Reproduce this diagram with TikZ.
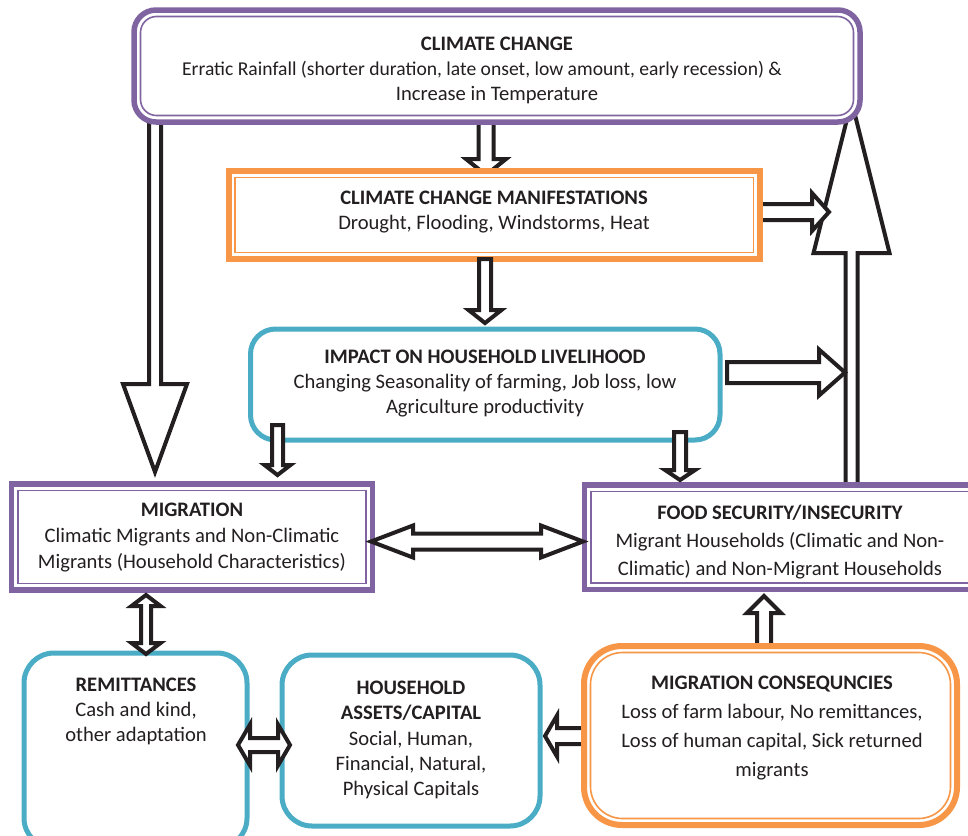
\documentclass[tikz,border=0pt]{standalone}
\usepackage{fontspec}
\setmainfont{Carlito}
\usetikzlibrary{calc}
\definecolor{cpurple}{HTML}{8064A2}
\definecolor{corange}{HTML}{F79646}
\definecolor{cblue}{HTML}{4BACC6}
\definecolor{ctext}{HTML}{231F20}
\definecolor{carrow}{HTML}{231F20}
% single block arrow: start, tip, shaft half width, head half width, head length
\newcommand{\blockarrow}[5]{%
  \coordinate (tmpH) at ($(#2)!#5pt!(#1)$);
  \draw[blk] ($(#1)!#3pt!90:(#2)$) -- ($(tmpH)!#3pt!90:(#2)$) -- ($(tmpH)!#4pt!90:(#2)$) -- (#2)
     -- ($(tmpH)!#4pt!-90:(#2)$) -- ($(tmpH)!#3pt!-90:(#2)$) -- ($(#1)!#3pt!-90:(#2)$) -- cycle;}
% double block arrow: tip a, tip b, shaft half width, head half width, head length
\newcommand{\dblockarrow}[5]{%
  \coordinate (tmpA) at ($(#1)!#5pt!(#2)$);
  \coordinate (tmpB) at ($(#2)!#5pt!(#1)$);
  \draw[blk] (#1) -- ($(tmpA)!#4pt!90:(#2)$) -- ($(tmpA)!#3pt!90:(#2)$) -- ($(tmpB)!#3pt!90:(#2)$)
     -- ($(tmpB)!#4pt!90:(#2)$) -- (#2) -- ($(tmpB)!#4pt!-90:(#2)$) -- ($(tmpB)!#3pt!-90:(#2)$)
     -- ($(tmpA)!#3pt!-90:(#2)$) -- ($(tmpA)!#4pt!-90:(#2)$) -- cycle;}
\begin{document}
\begin{tikzpicture}[x=1pt,y=-1pt,
  blk/.style={draw=carrow, line width=4pt, fill=white, line join=miter, miter limit=20},
  pbox/.style={draw=cpurple, line width=5.5pt, fill=white, inner sep=0pt},
  obox/.style={draw=corange, line width=6pt, fill=white, inner sep=0pt},
  bbox/.style={draw=cblue, line width=5pt, fill=white, inner sep=0pt, rounded corners=30pt},
  pinner/.style={draw=cpurple, line width=1.6pt, inner sep=0pt},
  oinner/.style={draw=corange, line width=1.6pt, inner sep=0pt},
  txt/.style={text=ctext, align=center, font=\fontsize{20.6}{25.5}\selectfont, inner sep=0pt},
]
\useasboundingbox (0,0) rectangle (968,835);

% ---- connector end points
\coordinate (a1s) at (155,118);   \coordinate (a1e) at (155,472);
\coordinate (a2s) at (486,118);   \coordinate (a2e) at (486,175);
\coordinate (a4s) at (740,212);   \coordinate (a4e) at (829,212);
\coordinate (a5s) at (851.5,487); \coordinate (a5e) at (851.5,101);
\coordinate (a12s) at (600,736);  \coordinate (a12e) at (545,736);
\coordinate (a13s) at (764,660);  \coordinate (a13e) at (764,596);
\coordinate (a3s) at (485,259);   \coordinate (a3e) at (485,323);
\coordinate (a6s) at (727,372.5); \coordinate (a6e) at (845,372.5);
\coordinate (a7s) at (277.5,425); \coordinate (a7e) at (277.5,475);
\coordinate (a8s) at (680,432);   \coordinate (a8e) at (680,480);
\coordinate (a9s) at (371,541.5); \coordinate (a9e) at (583,541.5);
\coordinate (a10s) at (146,595);  \coordinate (a10e) at (146,654);
\coordinate (a11s) at (238,745);  \coordinate (a11e) at (290,745);

% ---- arrows behind the boxes
\blockarrow{a5s}{a5e}{6}{38}{152}
\blockarrow{a1s}{a1e}{6}{32}{88}
\blockarrow{a2s}{a2e}{7.5}{20}{16}
\blockarrow{a4s}{a4e}{8}{19}{17}
\blockarrow{a12s}{a12e}{8}{20.5}{12}
\blockarrow{a13s}{a13e}{7}{17}{17}

% ---- boxes (outer thick border + inner thin border)
\node[pbox, rounded corners=22pt, minimum width=726pt, minimum height=112pt] (cc) at (497,66) {};
\node[pinner, rounded corners=16pt, minimum width=713pt, minimum height=99pt] (cci) at (cc.center) {};

\node[obox, minimum width=531.5pt, minimum height=88pt] (man) at (494.25,215) {};
\node[oinner, minimum width=518.5pt, minimum height=75pt] (mani) at (man.center) {};

\node[bbox, rounded corners=25pt, minimum width=469.5pt, minimum height=111pt] (imp) at (485.25,384.5) {};

\node[pbox, minimum width=361pt, minimum height=106pt] (mig) at (192,537) {};
\node[pinner, minimum width=348pt, minimum height=93pt] (migi) at (mig.center) {};

\node[pbox, minimum width=390.5pt, minimum height=104.5pt] (food) at (779.75,537.25) {};
\node[pinner, minimum width=377.5pt, minimum height=91.5pt] (foodi) at (food.center) {};

\node[bbox, minimum width=223pt, minimum height=195pt] (rem) at (135.5,750.5) {};
\node[bbox, minimum width=258pt, minimum height=171pt] (hh) at (411,740.5) {};

\node[obox, rounded corners=38pt, minimum width=373pt, minimum height=179pt] (con) at (770.5,735.5) {};
\node[oinner, rounded corners=32pt, minimum width=360pt, minimum height=166pt] (coni) at (con.center) {};

% ---- arrows in front of the boxes
\blockarrow{a3s}{a3e}{6}{16.5}{13}
\blockarrow{a6s}{a6e}{10.5}{23}{26}
\blockarrow{a7s}{a7e}{5.5}{13}{10}
\blockarrow{a8s}{a8e}{6}{15}{10}
\dblockarrow{a9s}{a9e}{8}{16}{42}
\dblockarrow{a10s}{a10e}{5}{14.5}{11}
\dblockarrow{a11s}{a11e}{7}{20.5}{12}

% ---- texts
\node[txt, font=\fontsize{20.6}{25}\selectfont] (cct) at (497,70) {\textbf{CLIMATE CHANGE}\\\hbox{\fontsize{19.6}{25}\selectfont Erratic Rainfall (shorter duration, late onset, low amount, early recession) \&\kern30pt}\\Increase in Temperature};
\node[txt] (mant) at (494,212) {\textbf{CLIMATE CHANGE MANIFESTATIONS}\\Drought, Flooding, Windstorms, Heat};
\node[txt, font=\fontsize{20.6}{25}\selectfont] (impt) at (485,383.5) {\textbf{IMPACT ON HOUSEHOLD LIVELIHOOD}\\Changing Seasonality of farming, Job loss, low\\Agriculture productivity};
\node[txt, font=\fontsize{20.6}{26}\selectfont] (migt) at (192,538) {\textbf{MIGRATION}\\Climatic Migrants and Non-Climatic\\Migrants (Household Characteristics)};
\node[txt, font=\fontsize{20.6}{28}\selectfont] (foodt) at (780,542) {\textbf{FOOD SECURITY/INSECURITY}\\Migrant Households (Climatic and Non-\\Climatic) and Non-Migrant Households};
\node[txt, font=\fontsize{20.6}{25}\selectfont] (remt) at (136,711) {\textbf{REMITTANCES}\\Cash and kind,\\other adaptation};
\node[txt, font=\fontsize{20.6}{25.3}\selectfont] (hht) at (411,740) {\textbf{HOUSEHOLD}\\\textbf{ASSETS/CAPITAL}\\Social, Human,\\Financial, Natural,\\Physical Capitals};
\node[txt, font=\fontsize{20.6}{29}\selectfont] (cont) at (772,728.5) {\textbf{MIGRATION CONSEQUNCIES}\\Loss of farm labour, No remittances,\\Loss of human capital, Sick returned\\migrants};
\end{tikzpicture}
\end{document}
